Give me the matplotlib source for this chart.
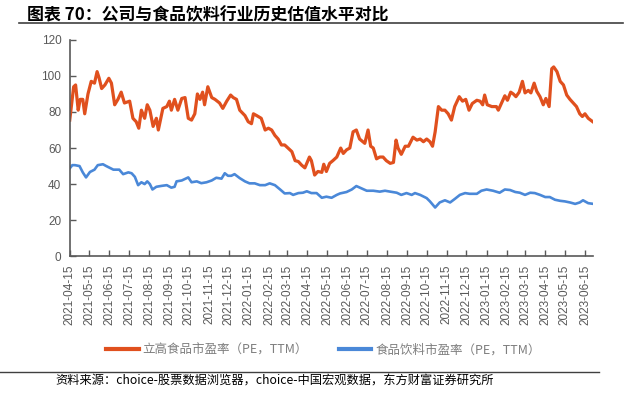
import numpy as np
import pandas as pd
import matplotlib
matplotlib.use("Agg")
import matplotlib.pyplot as plt
import matplotlib.dates as mdates

plt.rcParams['font.family'] = ['Noto Sans CJK SC', 'DejaVu Sans']

# 立高食品 PE(TTM)
lg_dates = ["2021-04-15", "2021-04-21", "2021-04-24", "2021-04-28", "2021-05-01", "2021-05-05",
            "2021-05-08", "2021-05-13", "2021-05-18", "2021-05-23", "2021-05-27", "2021-05-30",
            "2021-06-03", "2021-06-08", "2021-06-14", "2021-06-18", "2021-06-23", "2021-06-28",
            "2021-07-03", "2021-07-08", "2021-07-16", "2021-07-21", "2021-07-26", "2021-07-30",
            "2021-08-03", "2021-08-08", "2021-08-12", "2021-08-16", "2021-08-21", "2021-08-26",
            "2021-08-29", "2021-09-05", "2021-09-11", "2021-09-15", "2021-09-18", "2021-09-23",
            "2021-09-28", "2021-10-04", "2021-10-09", "2021-10-14", "2021-10-19", "2021-10-24",
            "2021-10-28", "2021-11-01", "2021-11-05", "2021-11-08", "2021-11-13", "2021-11-19",
            "2021-11-24", "2021-12-01", "2021-12-06", "2021-12-12", "2021-12-18", "2021-12-22",
            "2021-12-27", "2022-01-01", "2022-01-09", "2022-01-14", "2022-01-19", "2022-01-22",
            "2022-01-27", "2022-02-03", "2022-02-09", "2022-02-14", "2022-02-19", "2022-02-24",
            "2022-03-01", "2022-03-06", "2022-03-11", "2022-03-16", "2022-03-22", "2022-03-27",
            "2022-04-01", "2022-04-06", "2022-04-11", "2022-04-18", "2022-04-21", "2022-04-26",
            "2022-05-01", "2022-05-07", "2022-05-10", "2022-05-14", "2022-05-19", "2022-05-24",
            "2022-05-30", "2022-06-05", "2022-06-09", "2022-06-14", "2022-06-19", "2022-06-24",
            "2022-06-29", "2022-07-04", "2022-07-12", "2022-07-17", "2022-07-21", "2022-07-25",
            "2022-07-30", "2022-08-04", "2022-08-09", "2022-08-14", "2022-08-20", "2022-08-25",
            "2022-08-29", "2022-09-01", "2022-09-06", "2022-09-12", "2022-09-17", "2022-09-24",
            "2022-09-30", "2022-10-05", "2022-10-10", "2022-10-15", "2022-10-20", "2022-10-24",
            "2022-10-28", "2022-11-02", "2022-11-07", "2022-11-12", "2022-11-17", "2022-11-22",
            "2022-11-27", "2022-12-04", "2022-12-09", "2022-12-14", "2022-12-19", "2022-12-24",
            "2022-12-31", "2023-01-05", "2023-01-09", "2023-01-12", "2023-01-16", "2023-01-23",
            "2023-01-30", "2023-02-02", "2023-02-07", "2023-02-12", "2023-02-16", "2023-02-21",
            "2023-02-25", "2023-03-01", "2023-03-06", "2023-03-11", "2023-03-15", "2023-03-20",
            "2023-03-24", "2023-03-29", "2023-04-02", "2023-04-07", "2023-04-12", "2023-04-16",
            "2023-04-21", "2023-04-25", "2023-04-28", "2023-05-03", "2023-05-08", "2023-05-13",
            "2023-05-18", "2023-05-23", "2023-05-28", "2023-06-02", "2023-06-07", "2023-06-11",
            "2023-06-15", "2023-06-20", "2023-06-27"]
lg_pe = [75.5, 94, 95, 81, 87, 87,
         79, 90, 97, 96, 102.4, 99,
         93, 95, 98.7, 96, 84, 87,
         91, 85, 86, 76.5, 74.6, 71,
         81, 76.5, 84, 81, 72, 76.5,
         70, 82, 83, 86, 81, 87,
         81, 87.5, 88, 76.5, 75.5, 79,
         90, 87, 91, 84, 94, 88,
         87, 85, 82, 86, 89.4, 88,
         87, 81, 78, 74.6, 73.5, 79,
         78, 76.5, 70, 71, 70, 67,
         65, 61.7, 61.7, 60, 58, 53,
         52.5, 50.5, 49, 55, 53, 45,
         47, 46.5, 51, 47, 51.5, 53,
         55, 60, 57, 59, 60, 69,
         70, 65, 62.6, 70, 61, 60,
         54, 55, 55, 53, 51.5, 52,
         64.4, 60, 56.5, 61, 61, 66,
         64.4, 65, 63.5, 65, 63.5, 61,
         69, 83, 81, 81, 79, 75.5,
         83, 88.5, 86, 87, 81, 84.7,
         86.5, 86, 84, 89.4, 84, 83,
         83, 81, 85, 89, 86.5, 91,
         90, 88.5, 91, 97, 90.6, 92,
         90.6, 96, 91.5, 88.5, 84, 87.5,
         83, 104, 105, 102.4, 97, 95,
         89.4, 87, 85, 83, 79, 77.5,
         79, 76.5, 74.6]

# 食品饮料 PE(TTM)
fb_dates = ["2021-04-15", "2021-04-19", "2021-04-23", "2021-04-30", "2021-05-05", "2021-05-10",
            "2021-05-16", "2021-05-23", "2021-05-28", "2021-06-05", "2021-06-10", "2021-06-21",
            "2021-06-30", "2021-07-06", "2021-07-14", "2021-07-19", "2021-07-24", "2021-07-29",
            "2021-08-03", "2021-08-08", "2021-08-12", "2021-08-16", "2021-08-20", "2021-08-26",
            "2021-09-03", "2021-09-11", "2021-09-18", "2021-09-23", "2021-09-26", "2021-10-04",
            "2021-10-14", "2021-10-19", "2021-10-27", "2021-11-03", "2021-11-11", "2021-11-19",
            "2021-11-26", "2021-12-04", "2021-12-09", "2021-12-14", "2021-12-19", "2021-12-24",
            "2022-01-01", "2022-01-09", "2022-01-16", "2022-01-24", "2022-02-01", "2022-02-09",
            "2022-02-16", "2022-02-24", "2022-03-04", "2022-03-11", "2022-03-19", "2022-03-24",
            "2022-04-01", "2022-04-08", "2022-04-14", "2022-04-21", "2022-04-29", "2022-05-07",
            "2022-05-14", "2022-05-22", "2022-05-30", "2022-06-04", "2022-06-14", "2022-06-22",
            "2022-06-29", "2022-07-07", "2022-07-15", "2022-07-25", "2022-08-04", "2022-08-12",
            "2022-08-20", "2022-08-30", "2022-09-06", "2022-09-14", "2022-09-22", "2022-09-27",
            "2022-10-05", "2022-10-15", "2022-10-20", "2022-10-28", "2022-11-04", "2022-11-12",
            "2022-11-20", "2022-11-27", "2022-12-05", "2022-12-13", "2022-12-20", "2022-12-31",
            "2023-01-07", "2023-01-15", "2023-01-25", "2023-02-04", "2023-02-12", "2023-02-20",
            "2023-02-28", "2023-03-07", "2023-03-15", "2023-03-23", "2023-03-30", "2023-04-07",
            "2023-04-15", "2023-04-22", "2023-04-30", "2023-05-08", "2023-05-15", "2023-05-23",
            "2023-05-31", "2023-06-07", "2023-06-12", "2023-06-20", "2023-06-28"]
fb_pe = [48.7, 50.5, 50.5, 50, 46.5, 43.7,
         46.7, 48, 50.5, 51, 50, 48,
         48, 45.5, 46.5, 46, 44, 39.4,
         41, 40, 41.5, 40, 37, 38.5,
         39, 39.4, 38, 38.5, 41.5, 42,
         43.7, 41, 41.5, 40.5, 41, 42,
         43.5, 43, 46, 44.6, 44.6, 45.5,
         43.3, 41.5, 40.4, 40.4, 39.4, 39.4,
         40.4, 39.4, 37, 34.8, 35, 34,
         35, 35.2, 36, 35, 35, 32.4,
         33, 32.4, 34, 34.8, 35.6, 37,
         38.9, 37.6, 36.3, 36.3, 35.8, 36.3,
         35.8, 35.2, 34, 35, 34, 35,
         34, 32.2, 30.4, 27, 29.8, 31,
         29.8, 31.7, 34, 35, 34.6, 34.6,
         36.3, 37, 36.3, 35.2, 37, 36.7,
         35.6, 35.2, 34, 35.2, 35, 34,
         32.8, 32.8, 31.3, 30.7, 30.4, 29.8,
         29, 29.8, 31, 29.4, 29]

# monthly ticks on the 15th
tick_dates = pd.date_range("2021-04-01", "2023-06-01", freq="MS") + pd.Timedelta(days=14)

red = "#E0501E"
blue = "#4A88D8"
axis_gray = "#595959"

fig = plt.figure(figsize=(6.34, 3.99), dpi=100)
ax = fig.add_axes([0.110, 0.358, 0.826, 0.542])

ax.plot(pd.to_datetime(lg_dates), lg_pe, color=red, lw=2.3, label="立高食品市盈率（PE，TTM）")
ax.plot(pd.to_datetime(fb_dates), fb_pe, color=blue, lw=1.9, label="食品饮料市盈率（PE，TTM）")

ax.set_ylim(0, 120)
ax.set_yticks(np.arange(0, 121, 20))
ax.set_xlim(pd.Timestamp(lg_dates[0]), pd.Timestamp(fb_dates[-1]))
ax.set_xticks(tick_dates)
ax.xaxis.set_major_formatter(mdates.DateFormatter("%Y-%m-%d"))

for s in ["top", "right"]:
    ax.spines[s].set_visible(False)
for s in ["left", "bottom"]:
    ax.spines[s].set_color(axis_gray)
    ax.spines[s].set_linewidth(1.2)

ax.tick_params(axis="both", direction="in", length=4, width=1, color=axis_gray,
               labelcolor="#595959", labelsize=8.5, pad=6)
for lab in ax.get_xticklabels():
    lab.set_rotation(90)
    lab.set_family(["Liberation Sans", "DejaVu Sans"])
for lab in ax.get_yticklabels():
    lab.set_family(["Liberation Sans", "DejaVu Sans"])

leg = fig.legend(loc="center", bbox_to_anchor=(0.51, 0.122), ncol=2, frameon=False,
                 fontsize=9, handlelength=2.6, columnspacing=2.5, handletextpad=0.3)
for t in leg.get_texts():
    t.set_color("#7F7F7F")
for h in leg.get_lines():
    h.set_linewidth(3)

fig.text(0.043, 0.962, "图表 70：公司与食品饮料行业历史估值水平对比", fontsize=12.2,
         fontweight="bold", va="center", ha="left")
fig.add_artist(plt.Line2D([0.03, 0.982], [0.943, 0.943], color="#404040", lw=1.2,
                          transform=fig.transFigure))
fig.add_artist(plt.Line2D([0.0, 0.945], [0.068, 0.068], color="#404040", lw=1.0,
                          transform=fig.transFigure))
fig.text(0.087, 0.045, "资料来源：choice-股票数据浏览器，choice-中国宏观数据，东方财富证券研究所",
         fontsize=8.8, va="center", ha="left")

fig.savefig("out.png", dpi=100)
